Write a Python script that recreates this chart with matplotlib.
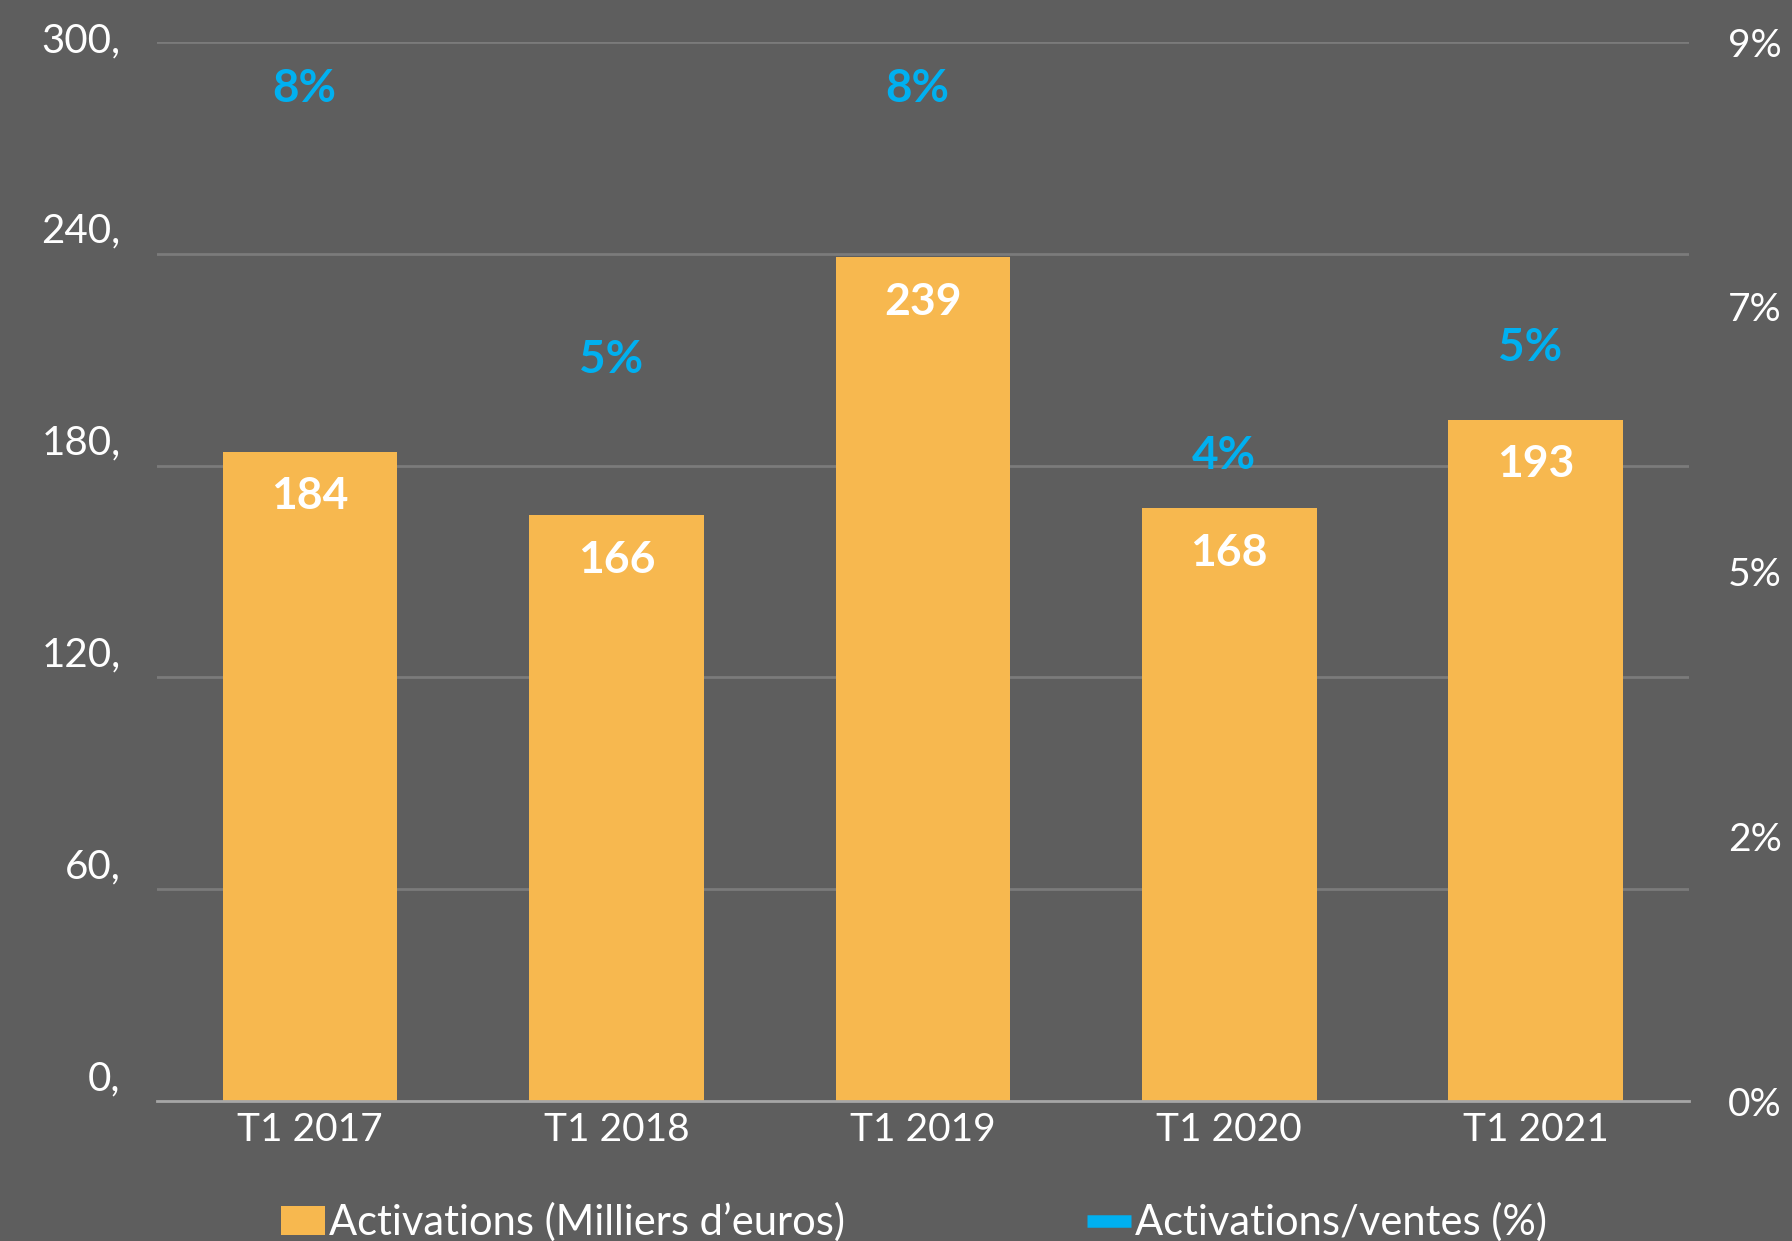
import matplotlib.pyplot as plt
import matplotlib.transforms as mtransforms
from matplotlib.patches import Patch
from matplotlib.lines import Line2D
import numpy as np

plt.rcParams['font.family'] = ['Lato', 'DejaVu Sans']

# données
periodes = ["T1 2017", "T1 2018", "T1 2019", "T1 2020", "T1 2021"]
activations = [184, 166, 239, 168, 193]
ratio = [0.076, 0.053, 0.076, 0.0448, 0.054]
yticks_left = [0, 60, 120, 180, 240, 300]
yticks_right = [0, 0.0225, 0.045, 0.0675, 0.09]
yticklabels_right = ["0%", "2%", "5%", "7%", "9%"]

bg = "#5E5E5E"
orange = "#F7B84F"
bleu = "#00B0F0"

fig = plt.figure(figsize=(17.92, 12.41), dpi=100, facecolor=bg)
ax = fig.add_axes([0.0875, 0.1128, 0.855, 0.8532])
ax.set_facecolor(bg)
ax2 = ax.twinx()

x = np.arange(len(periodes))
bars = ax.bar(x, activations, width=0.57, color=orange, zorder=3)

ax.set_xlim(-0.5, len(periodes) - 0.5)
ax.set_ylim(0, 300)
ax2.set_ylim(0, 0.09)

# grille
for v in yticks_left[1:]:
    ax.axhline(v, color="#7B7B7B", lw=2, zorder=1)
for s in ["top", "right", "left"]:
    ax.spines[s].set_visible(False)
    ax2.spines[s].set_visible(False)
ax2.spines["bottom"].set_visible(False)
ax.spines["bottom"].set_color("#A6A6A6")
ax.spines["bottom"].set_linewidth(2)
ax.spines["bottom"].set_zorder(4)

ax.set_xticks(x)
ax.set_xticklabels(periodes, color="white", fontsize=28)
ax.tick_params(axis="x", length=0, pad=8)

ax.set_yticks(yticks_left)
ax.set_yticklabels([f"{v}," for v in yticks_left], color="white", fontsize=29)
ax.tick_params(axis="y", length=0, pad=26)
for i, lab in enumerate(ax.get_yticklabels()):
    dy = 0.26 if i < len(yticks_left) - 1 else 0.05
    lab.set_transform(lab.get_transform() +
                      mtransforms.ScaledTranslation(0, dy, fig.dpi_scale_trans))

ax2.set_yticks(yticks_right)
ax2.set_yticklabels(yticklabels_right, color="white", fontsize=28)
ax2.tick_params(axis="y", length=0, pad=28)

# étiquettes des barres
for xi, v in zip(x, activations):
    ax.annotate(str(v), (xi, v), xytext=(0, -32), textcoords="offset points",
                ha="center", va="center", color="white", fontsize=32,
                fontweight="bold", zorder=5)

# étiquettes du ratio
for xi, r in zip(x, ratio):
    ax2.annotate(f"{r:.0%}", (xi, r + 0.01), xytext=(-4, 0), textcoords="offset points",
                 ha="center", va="center", color=bleu, fontsize=33, fontweight="bold")

handles = [Patch(facecolor=orange, edgecolor="none"),
           Line2D([0], [0], color=bleu, lw=9, solid_capstyle="butt")]
leg = fig.legend(handles, ["Activations (Milliers d\u2019euros)", "Activations/ventes (%)"],
                 loc="center", bbox_to_anchor=(0.51, 0.015), ncol=2, frameon=False,
                 fontsize=30, labelcolor="white", handlelength=1.05,
                 handletextpad=0.1, columnspacing=5.8)

fig.savefig("out.png", dpi=100, facecolor=bg)
